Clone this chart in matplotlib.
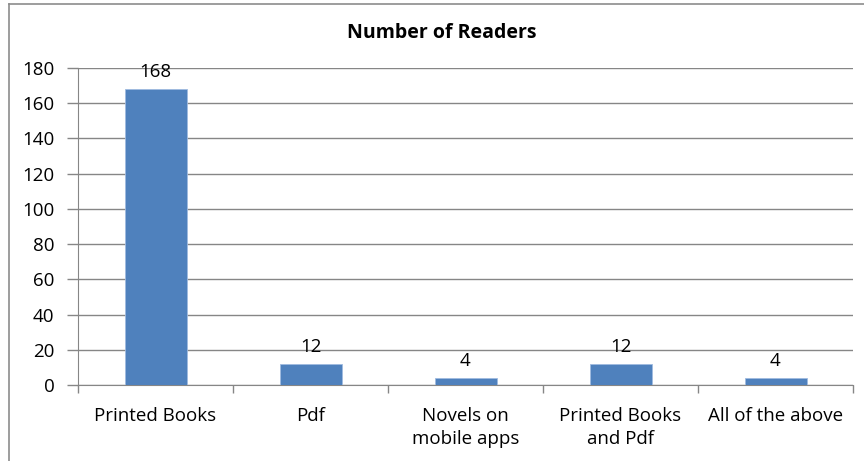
import matplotlib
matplotlib.use("Agg")
import matplotlib.pyplot as plt
from matplotlib.lines import Line2D

categories = ["Printed Books", "Pdf", "Novels on\nmobile apps", "Printed Books\nand Pdf", "All of the above"]
readers = [168, 12, 4, 12, 4]
yticks = [0, 20, 40, 60, 80, 100, 120, 140, 160, 180]
title = "Number of Readers"

plt.rcParams["font.family"] = ["Open Sans", "DejaVu Sans"]

W, H = 864, 461
fig = plt.figure(figsize=(W / 100, H / 100), dpi=100)
fig.patch.set_facecolor("white")

# outer chart frame (left and top edges visible)
fig.add_artist(Line2D([9 / W, 9 / W], [0, 1 - 4 / H], color="#8c8c8c", lw=1.2, transform=fig.transFigure))
fig.add_artist(Line2D([9 / W, 1], [1 - 4 / H, 1 - 4 / H], color="#8c8c8c", lw=1.2, transform=fig.transFigure))

left, right, top, bottom = 78, 853, 68, 385
ax = fig.add_axes([left / W, 1 - bottom / H, (right - left) / W, (bottom - top) / H])

x = list(range(len(categories)))
bars = ax.bar(x, readers, width=0.4, color="#4F81BD", edgecolor="#9fbbe0", linewidth=0.6, zorder=3)

ax.set_xlim(-0.5, len(categories) - 0.5)
ax.set_ylim(0, 180)
ax.set_yticks(yticks)
ax.set_yticklabels([str(v) for v in yticks], fontsize=13.5)
ax.yaxis.grid(True, color="#868686", lw=1.0, zorder=0)
ax.set_axisbelow(True)

for s in ["top", "right"]:
    ax.spines[s].set_visible(False)
ax.spines["left"].set_color("#868686")
ax.spines["bottom"].set_color("#868686")
ax.tick_params(axis="y", length=8, color="#868686", width=1, pad=9, labelcolor="black")

# category labels between boundary tick marks
ax.set_xticks([i - 0.5 for i in range(len(categories) + 1)])
ax.set_xticklabels([])
ax.tick_params(axis="x", length=6, color="#868686", width=1)
ax.set_xticks(x, minor=True)
ax.set_xticklabels(categories, minor=True, fontsize=13.5, linespacing=1.35)
ax.tick_params(axis="x", which="minor", length=0, pad=16)

for xi, v in zip(x, readers):
    ax.annotate(str(v), (xi, v), xytext=(0, 6), textcoords="offset points",
                ha="center", va="bottom", fontsize=13.5)

fig.text(442 / W, 1 - 33 / H, title, ha="center", va="center", fontsize=14, fontweight="bold")

fig.savefig("out.png", dpi=100, facecolor="white")
